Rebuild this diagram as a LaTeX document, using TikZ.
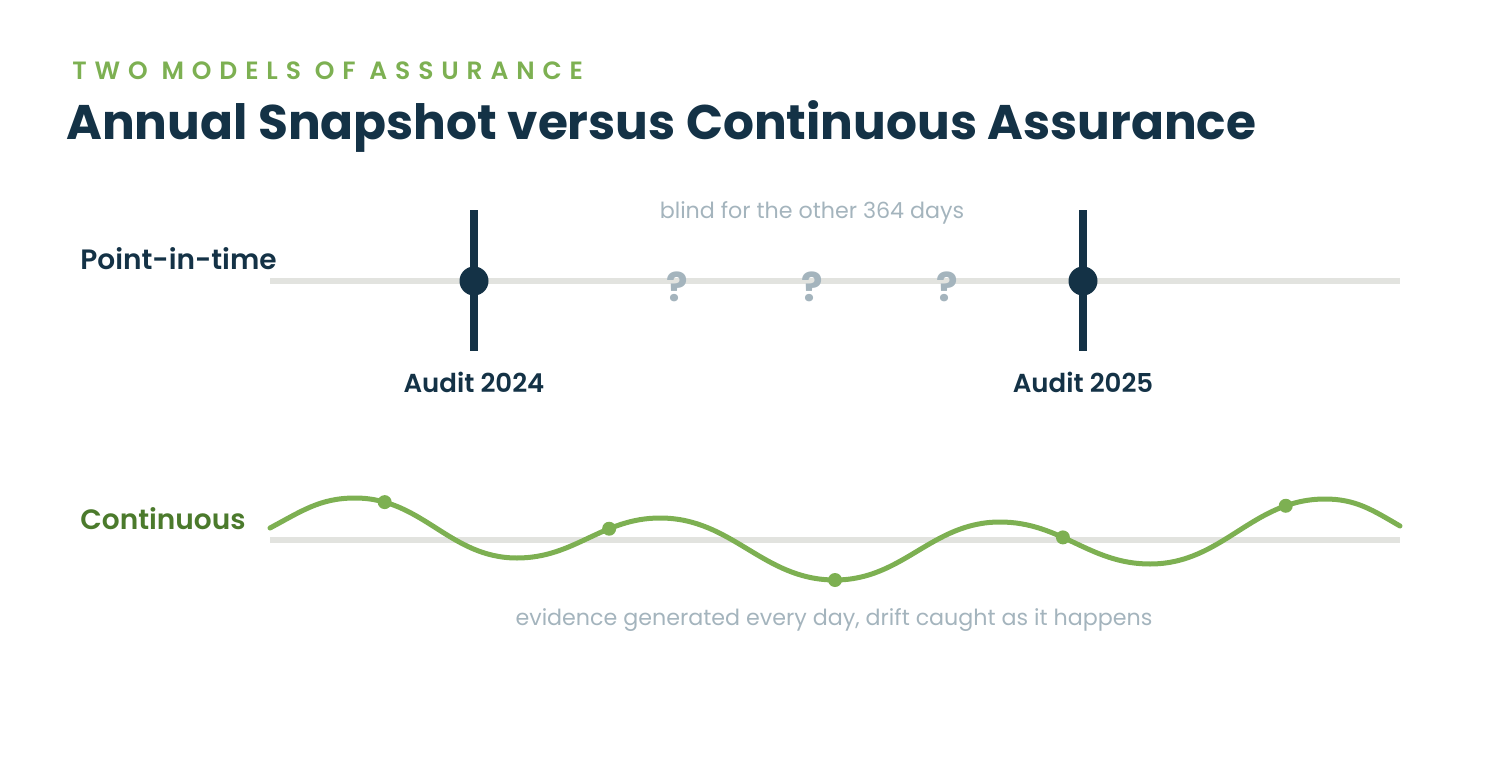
\documentclass[tikz,border=0pt]{standalone}
\usepackage{fontspec}
\setmainfont{Poppins}
\newfontfamily\boldfont{Poppins Bold}
\newfontfamily\semifont{Poppins SemiBold}
\newfontfamily\medfont{Poppins Medium}
\definecolor{navy}{HTML}{143246}
\definecolor{leaf}{HTML}{7DB052}
\definecolor{moss}{HTML}{4B7A2C}
\definecolor{mist}{HTML}{A4B4BD}
\definecolor{rail}{HTML}{E2E3DF}
\tikzset{
  railline/.style={rail, line width=3pt},
  audit/.style={navy, line width=4pt},
  rowlabel/.style={anchor=west, inner sep=0pt, font=\semifont\fontsize{14}{16}\selectfont},
  auditlabel/.style={navy, font=\semifont\fontsize{13}{15}\selectfont},
  note/.style={mist, font=\fontsize{11.1}{13}\selectfont},
  qmark/.style={mist, font=\boldfont\fontsize{20}{22}\selectfont},
  dot/.style={circle, fill=leaf, inner sep=0pt, minimum size=7pt},
}
\begin{document}
\begin{tikzpicture}[x=0.5pt,y=-0.5pt]
      \useasboundingbox (0,0) rectangle (1500,760);
      \draw
        (72,71) node[anchor=west, inner sep=0pt, leaf, font=\semifont\fontsize{12.5}{15}\selectfont\addfontfeature{LetterSpace=31.5}] (kicker){TWO MODELS OF ASSURANCE}
        (66,126) node[anchor=west, inner sep=0pt, navy, font=\boldfont\fontsize{24.3}{29}\selectfont] (title){Annual Snapshot versus Continuous Assurance}
        (80,259) node[rowlabel, navy] (pit){Point-in-time}
        (80,519) node[rowlabel, moss] (cont){Continuous};
      \begin{scope}
        \coordinate (r1a) at (270,281);
        \coordinate (r1b) at (1400,281);
        \coordinate (r2a) at (270,540);
        \coordinate (r2b) at (1400,540);
        \draw[railline] (r1a) to (r1b);
        \draw[railline] (r2a) to (r2b);
      \end{scope}
      \begin{scope}
        \coordinate (a1top) at (474,210);
        \coordinate (a1bot) at (474,351);
        \coordinate (a2top) at (1083,210);
        \coordinate (a2bot) at (1083,351);
        \draw[audit] (a1top) to (a1bot);
        \draw[audit] (a2top) to (a2bot);
        \node[circle, fill=navy, inner sep=0pt, minimum size=14.5pt] (m1) at (474,281) {};
        \node[circle, fill=navy, inner sep=0pt, minimum size=14.5pt] (m2) at (1083,281) {};
        \node[auditlabel] (l1) at (474,382) {Audit 2024};
        \node[auditlabel] (l2) at (1083,382) {Audit 2025};
      \end{scope}
      \draw
        (812,213) node[note] (blind){blind for the other 364 days}
        (677,287) node[qmark] (q1){?}
        (812,287) node[qmark] (q2){?}
        (947,287) node[qmark] (q3){?}
        (834,620) node[note] (evid){evidence generated every day, drift caught as it happens};
      \draw[leaf, line width=2.5pt, line cap=round]
        (270,528) to[out=28, in=180] (355,498)
        to[out=0, in=180] node[dot, pos=0.16] (d1){} (517,558)
        to[out=0, in=180] node[dot, pos=0.66] (d2){} (660,518)
        to[out=0, in=180] (835,580) node[dot] (d3){}
        to[out=0, in=180] (1000,522)
        to[out=0, in=180] node[dot, pos=0.41] (d4){} (1150,564)
        to[out=0, in=180] node[dot, pos=0.80] (d5){} (1325,499)
        to[out=0, in=150] (1400,526);
    \end{tikzpicture}
\end{document}
